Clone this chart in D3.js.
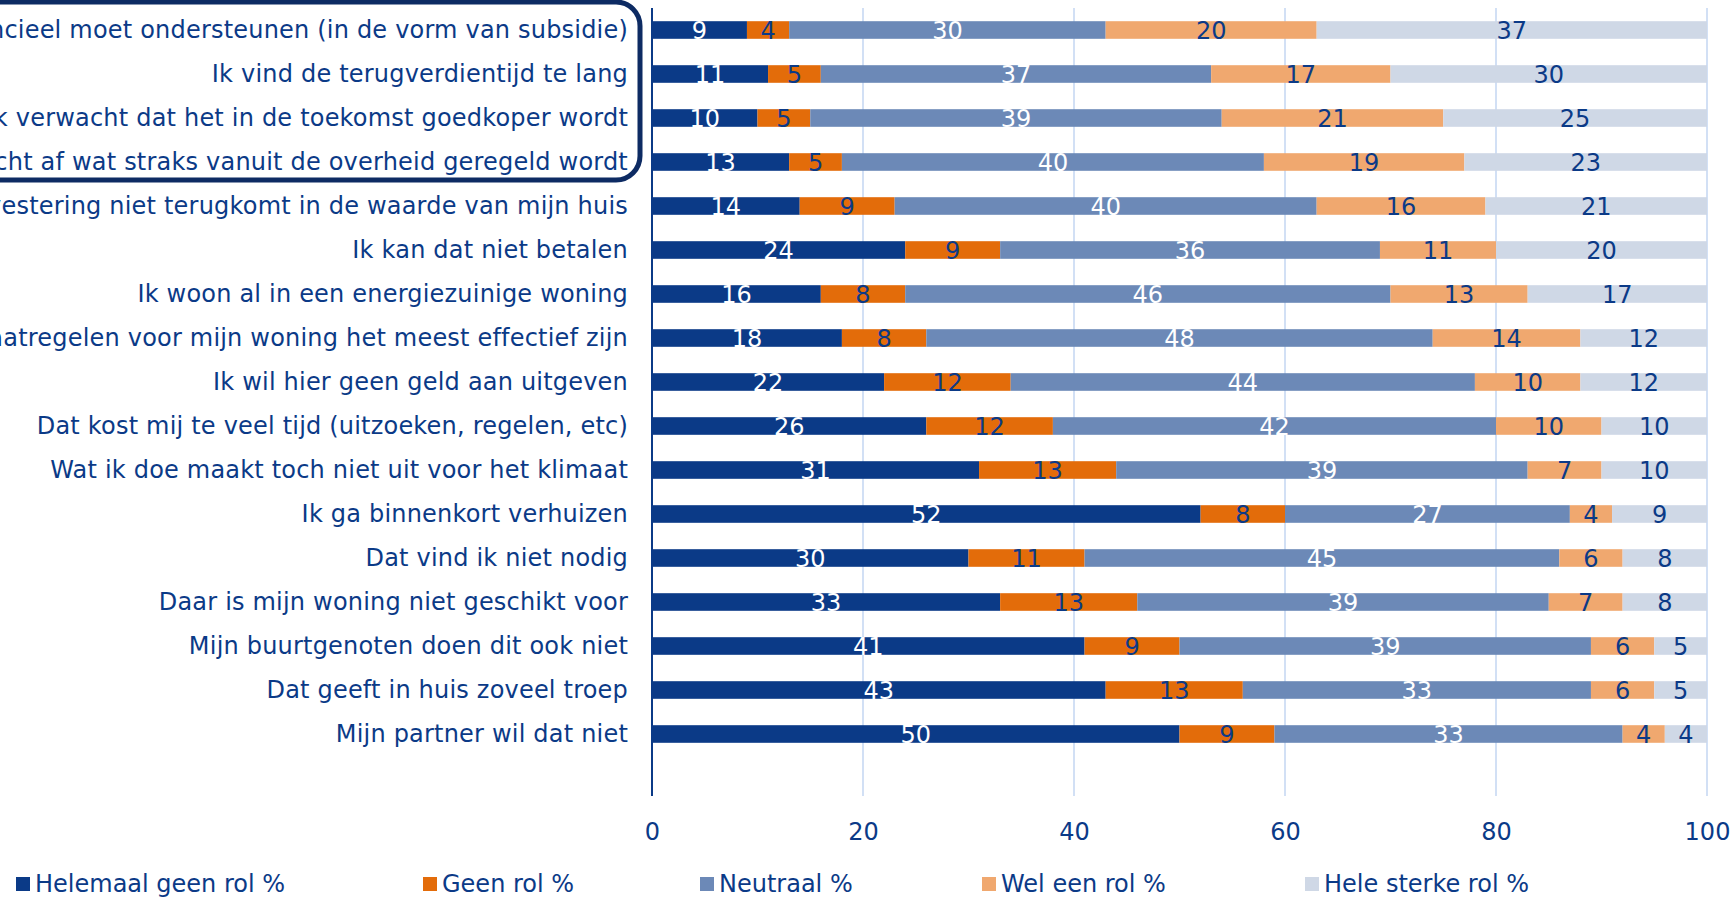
<!DOCTYPE html>
<html>
<head>
<meta charset="utf-8">
<script src="https://cdn.jsdelivr.net/npm/d3@7"></script>
<style>
  body { margin: 0; background: #fff; }
  svg text { font-family: "DejaVu Sans", Verdana, sans-serif; }
</style>
</head>
<body>
<svg id="chart" width="1733" height="897"></svg>
<script>
// Statements (top to bottom)
var categories = [
    "Ik vind dat de overheid mij financieel moet ondersteunen (in de vorm van subsidie)",
    "Ik vind de terugverdientijd te lang",
    "Ik verwacht dat het in de toekomst goedkoper wordt",
    "Ik wacht af wat straks vanuit de overheid geregeld wordt",
    "Ik ben bang dat de investering niet terugkomt in de waarde van mijn huis",
    "Ik kan dat niet betalen",
    "Ik woon al in een energiezuinige woning",
    "Ik weet niet welke maatregelen voor mijn woning het meest effectief zijn",
    "Ik wil hier geen geld aan uitgeven",
    "Dat kost mij te veel tijd (uitzoeken, regelen, etc)",
    "Wat ik doe maakt toch niet uit voor het klimaat",
    "Ik ga binnenkort verhuizen",
    "Dat vind ik niet nodig",
    "Daar is mijn woning niet geschikt voor",
    "Mijn buurtgenoten doen dit ook niet",
    "Dat geeft in huis zoveel troep",
    "Mijn partner wil dat niet"
];

var seriesNames = ["Helemaal geen rol %", "Geen rol %", "Neutraal %", "Wel een rol %", "Hele sterke rol %"];

var helemaalGeen = [9, 11, 10, 13, 14, 24, 16, 18, 22, 26, 31, 52, 30, 33, 41, 43, 50];
var geenRol      = [4, 5, 5, 5, 9, 9, 8, 8, 12, 12, 13, 8, 11, 13, 9, 13, 9];
var neutraal     = [30, 37, 39, 40, 40, 36, 46, 48, 44, 42, 39, 27, 45, 39, 39, 33, 33];
var welEenRol    = [20, 17, 21, 19, 16, 11, 13, 14, 10, 10, 7, 4, 6, 7, 6, 6, 4];
var heleSterk    = [37, 30, 25, 23, 21, 20, 17, 12, 12, 10, 10, 9, 8, 8, 5, 5, 4];

var xTicks = [0, 20, 40, 60, 80, 100];

var seriesColors = ['#0b3a87', '#e36c0a', '#6c89b7', '#f0a86f', '#cfd8e6'];
var labelColors = ['#ffffff', '#0b3a87', '#ffffff', '#0b3a87', '#0b3a87'];
var textColor = '#0b3a87';
var fontSize = '24px';

var svg = d3.select('#chart');

// build rows for the stack
var rows = categories.map(function(c, i) {
    return {
        cat: c,
        "Helemaal geen rol %": helemaalGeen[i],
        "Geen rol %": geenRol[i],
        "Neutraal %": neutraal[i],
        "Wel een rol %": welEenRol[i],
        "Hele sterke rol %": heleSterk[i]
    };
});

var stacked = d3.stack().keys(seriesNames)(rows);

var x = d3.scaleLinear()
    .domain([0, 100])
    .range([652, 1707]);

var y = d3.scaleBand()
    .domain(categories)
    .range([8, 756])
    .paddingInner(0.6)
    .paddingOuter(0.3);

var plotTop = 8;
var plotBottom = 796;

// gridlines
svg.append('g')
    .selectAll('line')
    .data(xTicks.slice(1))
    .enter()
    .append('line')
    .attr('x1', function(d) { return x(d); })
    .attr('x2', function(d) { return x(d); })
    .attr('y1', plotTop)
    .attr('y2', plotBottom)
    .attr('stroke', '#d2e0f5')
    .attr('stroke-width', 2);

// bars
var layers = svg.append('g')
    .selectAll('g')
    .data(stacked)
    .enter()
    .append('g')
    .attr('fill', function(d, i) { return seriesColors[i]; });

layers.selectAll('rect')
    .data(function(d) { return d; })
    .enter()
    .append('rect')
    .attr('x', function(d) { return x(d[0]); })
    .attr('y', function(d) { return y(d.data.cat); })
    .attr('width', function(d) { return x(d[1]) - x(d[0]); })
    .attr('height', y.bandwidth());

// value labels
var labelLayers = svg.append('g')
    .selectAll('g')
    .data(stacked)
    .enter()
    .append('g')
    .attr('fill', function(d, i) { return labelColors[i]; });

labelLayers.selectAll('text')
    .data(function(d) { return d; })
    .enter()
    .append('text')
    .attr('x', function(d) { return x((d[0] + d[1]) / 2); })
    .attr('y', function(d) { return y(d.data.cat) + y.bandwidth() / 2 + 9; })
    .attr('text-anchor', 'middle')
    .style('font-size', fontSize)
    .text(function(d) { return d[1] - d[0]; });

// vertical axis line
svg.append('line')
    .attr('x1', x(0))
    .attr('x2', x(0))
    .attr('y1', plotTop)
    .attr('y2', plotBottom)
    .attr('stroke', textColor)
    .attr('stroke-width', 2);

// category labels
svg.append('g')
    .selectAll('text')
    .data(categories)
    .enter()
    .append('text')
    .attr('x', 628)
    .attr('y', function(d) { return y(d) + y.bandwidth() / 2 + 8; })
    .attr('text-anchor', 'end')
    .attr('fill', textColor)
    .style('font-size', fontSize)
    .style('letter-spacing', '0.2px')
    .text(function(d) { return d; });

// highlight box around first four statements
svg.append('rect')
    .attr('x', -30)
    .attr('y', 2)
    .attr('width', 670)
    .attr('height', 178)
    .attr('rx', 24)
    .attr('fill', 'none')
    .attr('stroke', '#0d2b63')
    .attr('stroke-width', 5);

// x axis tick labels
var xAxis = d3.axisBottom(x)
    .tickValues(xTicks)
    .tickSize(0)
    .tickPadding(27);

var axisG = svg.append('g')
    .attr('transform', 'translate(0,' + plotBottom + ')')
    .call(xAxis);

axisG.select('.domain').remove();
axisG.selectAll('text')
    .attr('fill', textColor)
    .style('font-size', fontSize)
    .style('font-family', '"DejaVu Sans", Verdana, sans-serif');

// legend
var legendX = [16, 423, 700, 982, 1305];

var legend = svg.append('g')
    .selectAll('g')
    .data(seriesNames)
    .enter()
    .append('g')
    .attr('transform', function(d, i) { return 'translate(' + legendX[i] + ',877)'; });

legend.append('rect')
    .attr('width', 14)
    .attr('height', 14)
    .attr('fill', function(d, i) { return seriesColors[i]; });

legend.append('text')
    .attr('x', 19)
    .attr('y', 15)
    .attr('fill', textColor)
    .style('font-size', fontSize)
    .text(function(d) { return d; });
</script>
</body>
</html>
